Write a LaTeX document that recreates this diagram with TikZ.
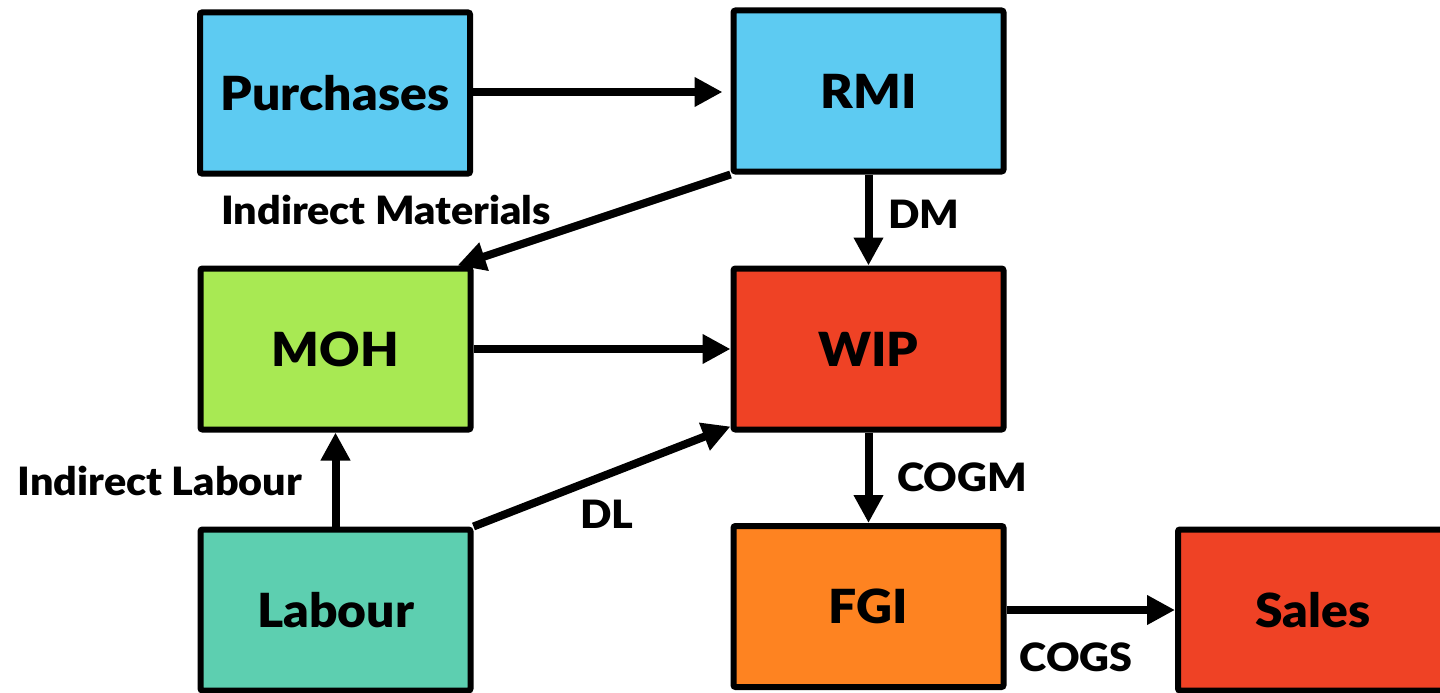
\documentclass[tikz,border=0pt]{standalone}
\usepackage{fontspec}
\setmainfont{Lato}[BoldFont={Lato Black}, BoldFeatures={FakeStretch=1.06}]
\usetikzlibrary{arrows.meta}
\definecolor{cblue}{HTML}{5DCBF2}
\definecolor{cgreen}{HTML}{A8E953}
\definecolor{cred}{HTML}{EF4225}
\definecolor{cteal}{HTML}{5DCFB0}
\definecolor{corange}{HTML}{FE8321}
\tikzset{
  box/.style={draw=black, line width=6pt, rounded corners=2pt, minimum width=270pt, minimum height=161pt, inner sep=0pt,
    font=\fontsize{47}{56}\selectfont\bfseries},
  lbl/.style={inner sep=0pt, font=\fontsize{39}{46}\selectfont\bfseries},
  flow/.style={line width=8pt, -{Triangle[length=28pt,width=28pt]}}
}
\begin{document}
\begin{tikzpicture}[x=1pt,y=-1pt]
\useasboundingbox (0,0) rectangle (1440,693);
\node[box, fill=cblue]   (pur) at (335,93)    {Purchases};
\node[box, fill=cblue]   (rmi) at (868.5,91)  {RMI};
\node[box, fill=cgreen]  (moh) at (335.5,349) {MOH};
\node[box, fill=cred]    (wip) at (868.5,349) {WIP};
\node[box, fill=cteal]   (lab) at (335.5,610) {Labour};
\node[box, fill=corange] (fgi) at (868.5,606.5) {FGI};
\node[box, fill=cred]    (sal) at (1313,610)  {Sales};

\node[lbl] (lim) at (386,210) {Indirect Materials};
\node[lbl] (ldm) at (924,214) {DM};
\node[lbl] (lil) at (160,481) {Indirect Labour};
\node[lbl] (ldl) at (607,514) {DL};
\node[lbl] (lcogm) at (962,477) {COGM};
\node[lbl] (lcogs) at (1076,657) {COGS};

\draw[flow, shorten >=8pt] (pur.east |- 0,92) -- (rmi.west |- 0,92);
\draw[flow] (rmi.south west) -- ([xshift=-16pt]moh.north east);
\draw[flow] (rmi.south) -- (wip.north);
\draw[flow] (moh.east) -- (wip.west);
\draw[flow] (lab.north east) -- ([yshift=6pt]wip.south west);
\draw[flow] (lab.north) -- (moh.south);
\draw[flow] (wip.south) -- (fgi.north);
\draw[flow] (fgi.east |- sal.west) -- (sal.west);
\end{tikzpicture}
\end{document}
